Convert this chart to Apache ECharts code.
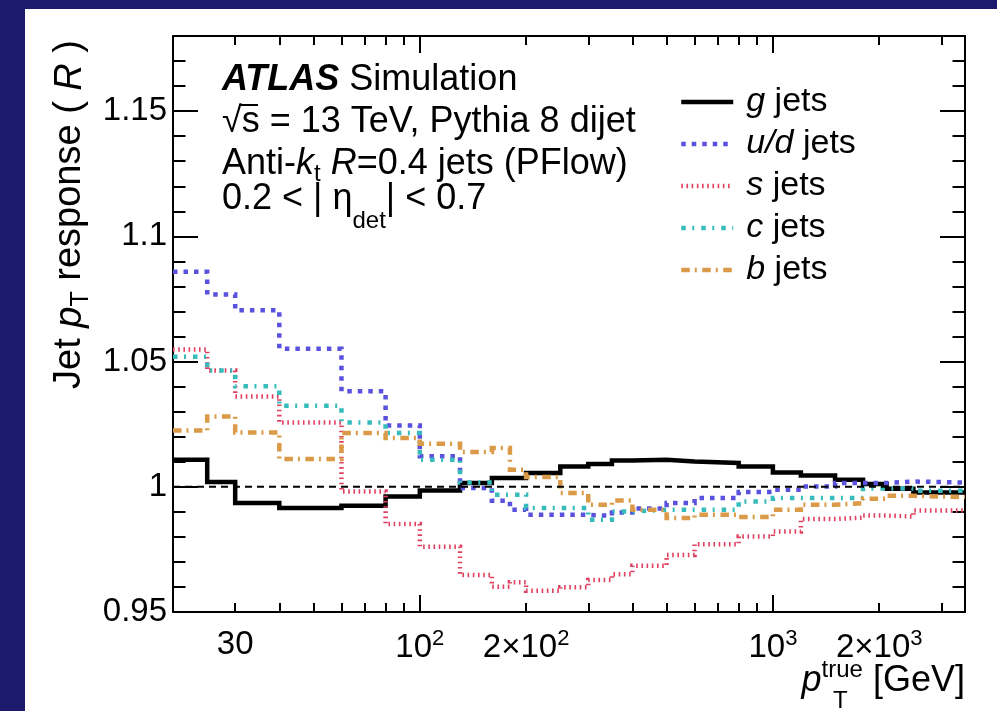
<!DOCTYPE html>
<html>
<head>
<meta charset="utf-8">
<script src="https://cdn.jsdelivr.net/npm/echarts@6/dist/echarts.min.js"></script>
<style>
  html, body { margin: 0; padding: 0; width: 997px; height: 711px; background: #1b1a6d; overflow: hidden; }
  #chart { position: absolute; left: 25px; top: 9px; width: 972px; height: 702px; background: #ffffff; }
</style>
</head>
<body>
<div id="chart"></div>
<script>
// Histogram bin edges of the true jet pT, in GeV
const binEdges = [20, 25, 30, 40, 60, 80, 100, 130, 160, 180, 200, 250, 300, 350, 400,
                  500, 600, 800, 1000, 1200, 1500, 1800, 2100, 2500, 3500];

// Mean response per bin, one value per bin
const gJets  = [1.0108, 1.0019, 0.9935, 0.9915, 0.9924, 0.9961, 0.9985, 1.0015, 1.0035, 1.0035,
                1.0055, 1.0081, 1.0091, 1.0105, 1.0108, 1.0101, 1.0095, 1.0081, 1.0057, 1.0045,
                1.0028, 1.0011, 0.9992, 0.9977];
const udJets = [1.0859, 1.0768, 1.0705, 1.0551, 1.0381, 1.0245, 1.0122, 0.9995, 0.9944, 0.9908,
                0.9888, 0.9888, 0.9884, 0.9897, 0.9913, 0.9935, 0.9955, 0.9979, 0.9988, 1.0001,
                1.0015, 1.0015, 1.0021, 1.0017];
const sJets  = [1.0548, 1.0464, 1.0361, 1.0257, 0.9981, 0.9851, 0.9761, 0.9648, 0.9601, 0.9619,
                0.9585, 0.9599, 0.9628, 0.9651, 0.9685, 0.9728, 0.9771, 0.9801, 0.9821, 0.9871,
                0.9877, 0.9885, 0.9881, 0.9905];
const cJets  = [1.0519, 1.0464, 1.0401, 1.0324, 1.0257, 1.0215, 1.0108, 1.0017, 0.9968, 0.9968,
                0.9915, 0.9915, 0.9868, 0.9901, 0.9908, 0.9908, 0.9908, 0.9941, 0.9955, 0.9955,
                0.9955, 0.9993, 0.9993, 0.9984];
const bJets  = [1.0225, 1.0281, 1.0217, 1.0111, 1.0215, 1.0195, 1.0172, 1.0139, 1.0155, 1.0068,
                1.0039, 0.9975, 0.9928, 0.9945, 0.9908, 0.9875, 0.9888, 0.9879, 0.9908, 0.9928,
                0.9935, 0.9952, 0.9964, 0.9959];

// Axis ranges and ticks
const xRange = [20, 3500];
const yRange = [0.95, 1.18];
const yMajorStep = 0.05;
const yMinorStep = 0.01;
const referenceLevel = 1;
const xMajorTicks = [100, 1000];
const xMinorTicks = [20, 30, 40, 50, 60, 70, 80, 90, 200, 300, 400, 500, 600, 700, 800, 900, 2000, 3000];
const xLabelValues = [30, 100, 200, 1000, 2000];
const xLabelTexts = ['30', '10{s|2}', '2\u00d710{s|2}', '10{s|3}', '2\u00d710{s|3}'];

const FONT = "'Liberation Sans', Arial, Helvetica, sans-serif";
const BLACK = '#000000';
const TXT = 36;   // annotation font size

// Turn per-bin values into step-line points (bin start, value) + closing edge
function histPoints(values) {
  const pts = values.map((v, i) => [binEdges[i], v]);
  pts.push([binEdges[binEdges.length - 1], values[values.length - 1]]);
  return pts;
}

const flavours = [
  { name: 'g',   values: gJets,  color: '#000000', width: 4.5, dash: 'solid' },
  { name: 'u/d', values: udJets, color: '#5a52de', width: 4.5, dash: [4.5, 6] },
  { name: 's',   values: sJets,  color: '#e0405f', width: 4.5, dash: [1.6, 3.6] },
  { name: 'c',   values: cJets,  color: '#36bcbc', width: 4.5, dash: [4.5, 6.5, 2, 7] },
  { name: 'b',   values: bJets,  color: '#db9a47', width: 4.5, dash: [8.5, 5, 2, 5.5] }
];

const axisLineStyle = { color: BLACK, width: 2 };

function xAxisDef(position, major) {
  const ax = {
    type: 'log', logBase: 10, min: xRange[0], max: xRange[1], position: position,
    splitLine: { show: false },
    axisLine: { show: major, onZero: false, lineStyle: axisLineStyle },
    axisTick: { show: true, inside: true, length: major ? 17 : 9,
                customValues: major ? xMajorTicks : xMinorTicks, lineStyle: axisLineStyle },
    axisLabel: { show: false }
  };
  if (major && position === 'bottom') {
    ax.axisLabel = {
      show: true, customValues: xLabelValues, margin: 16, color: BLACK,
      fontSize: 33, fontFamily: FONT,
      formatter: function (v) {
        const idx = xLabelValues.findIndex(t => Math.abs(t - v) / t < 1e-6);
        return idx >= 0 ? xLabelTexts[idx] : '';
      },
      rich: { s: { fontSize: 22, fontFamily: FONT, color: BLACK, padding: [0, 0, 18, 0] } }
    };
  }
  return ax;
}

function yAxisDef(position, major) {
  const ax = {
    type: 'value', min: yRange[0], max: yRange[1], position: position,
    interval: major ? yMajorStep : yMinorStep,
    splitLine: { show: false },
    axisLine: { show: major, onZero: false, lineStyle: axisLineStyle },
    axisTick: { show: true, inside: true, length: major ? 25 : 12.5, lineStyle: axisLineStyle },
    axisLabel: { show: false }
  };
  if (major && position === 'left') {
    ax.axisLabel = { show: true, showMaxLabel: false, margin: 6, color: BLACK,
                     fontSize: 33, fontFamily: FONT };
  }
  return ax;
}

const series = flavours.map(f => ({
  name: f.name, type: 'line', step: 'end', symbol: 'none', showSymbol: false,
  xAxisIndex: 0, yAxisIndex: 0, data: histPoints(f.values),
  lineStyle: { color: f.color, width: f.width, type: f.dash, cap: 'butt', join: 'miter' },
  itemStyle: { color: f.color },
  emphasis: { disabled: true }, silent: true, z: 3
}));

// Dashed reference line at R = 1
series.push({
  name: 'unity', type: 'line', symbol: 'none', xAxisIndex: 0, yAxisIndex: 0,
  data: [[xRange[0], referenceLevel], [xRange[1], referenceLevel]],
  lineStyle: { color: BLACK, width: 2, type: [7, 5] }, silent: true, z: 4
});

function richBase(size) {
  const sub = Math.round(size * 0.66);
  return {
    i:    { fontSize: size, fontFamily: FONT, fontStyle: 'italic', fill: BLACK },
    b:    { fontSize: size, fontFamily: FONT, fontStyle: 'italic', fontWeight: 'bold', fill: BLACK },
    sub:  { fontSize: sub, fontFamily: FONT, fill: BLACK, padding: [Math.round(size * 0.57), 0, 0, 0] },
    low:  { fontSize: sub, fontFamily: FONT, fill: BLACK, padding: [Math.round(size * 1.25), 0, 0, 0] },
    sup:  { fontSize: sub, fontFamily: FONT, fill: BLACK, padding: [0, 0, Math.round(size * 0.6), 0] }
  };
}
function textStyle(text, size, extra) {
  return Object.assign({ text: text, fontSize: size, fontFamily: FONT, fill: BLACK,
                         verticalAlign: 'middle', rich: richBase(size) }, extra || {});
}

const chart = echarts.init(document.getElementById('chart'), null, { renderer: 'canvas' });
chart.setOption({
  animation: false,
  backgroundColor: '#ffffff',
  grid: { left: 148, top: 27, width: 792, height: 576, containLabel: false },
  xAxis: [xAxisDef('bottom', true), xAxisDef('bottom', false), xAxisDef('top', true), xAxisDef('top', false)],
  yAxis: [yAxisDef('left', true), yAxisDef('left', false), yAxisDef('right', true), yAxisDef('right', false)],
  legend: {
    orient: 'vertical', left: 654, top: 76, padding: 0,
    itemWidth: 52, itemHeight: 14, itemGap: 8, selectedMode: false,
    itemStyle: { color: 'rgba(0,0,0,0)', borderWidth: 0, opacity: 0 },
    data: flavours.map(f => ({ name: f.name, lineStyle: { width: f.width } })),
    formatter: name => '{i|' + name + '} jets',
    textStyle: {
      fontSize: 34, fontFamily: FONT, color: BLACK, padding: [0, 0, 0, 8],
      rich: { i: { fontSize: 34, fontFamily: FONT, fontStyle: 'italic', color: BLACK } }
    }
  },
  graphic: [
    { type: 'text', x: 197, y: 71, silent: true, style: textStyle('{b|ATLAS} Simulation', TXT) },
    { type: 'text', x: 197, y: 113, silent: true, style: textStyle('\u221as = 13 TeV, Pythia 8 dijet', TXT) },
    // bar of the square root over "s"
    { type: 'line', silent: true, shape: { x1: 214, y1: 96, x2: 233, y2: 96 },
      style: { stroke: BLACK, lineWidth: 2 } },
    { type: 'text', x: 197, y: 155, silent: true, style: textStyle('Anti-{i|k}{sub|t} {i|R}=0.4 jets (PFlow)', TXT) },
    { type: 'text', x: 197, y: 190, silent: true, style: textStyle('0.2 < | \u03b7{low|det}| < 0.7', TXT) },
    // y-axis title, rotated, ending near the top of the frame
    { type: 'text', x: 45, y: 31, rotation: Math.PI / 2, silent: true,
      style: textStyle('Jet {i|p}{sub|T} response ( {i|R} )', 38, { align: 'right' }) },
    // x-axis title
    { type: 'text', x: 940, y: 672, silent: true,
      style: textStyle('{i|p}{sup|true} [GeV]', 36, { align: 'right' }) },
    { type: 'text', x: 808, y: 692, silent: true, style: textStyle('T', 24) }
  ],
  series: series
});
</script>
</body>
</html>
